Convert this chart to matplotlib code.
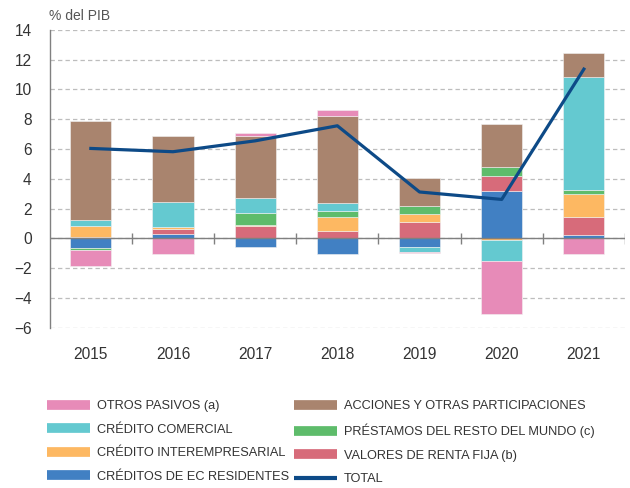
import numpy as np
import matplotlib
matplotlib.use("Agg")
import matplotlib.pyplot as plt
from matplotlib.lines import Line2D

years = ["2015", "2016", "2017", "2018", "2019", "2020", "2021"]

# % del PIB
creditos_ec = [-0.67, 0.31, -0.58, -1.05, -0.58, 3.20, 0.22]
valores_renta_fija = [0.10, 0.34, 0.83, 0.51, 1.12, 1.00, 1.20]
credito_interempresarial = [0.75, 0.10, 0.10, 0.92, 0.49, -0.09, 1.54]
prestamos_rdm = [-0.07, 0.0, 0.78, 0.43, 0.58, 0.58, 0.31]
credito_comercial = [0.40, 1.72, 0.98, 0.51, -0.31, -1.45, 7.58]
acciones = [6.60, 4.40, 4.18, 5.86, 1.86, 2.89, 1.59]
otros_pasivos = [-1.10, -1.05, 0.22, 0.38, -0.07, -3.51, -1.05]
total = [6.04, 5.82, 6.55, 7.56, 3.12, 2.62, 11.36]

names = {
    "ec": "CRÉDITOS DE EC RESIDENTES",
    "rf": "VALORES DE RENTA FIJA (b)",
    "ie": "CRÉDITO INTEREMPRESARIAL",
    "rdm": "PRÉSTAMOS DEL RESTO DEL MUNDO (c)",
    "cc": "CRÉDITO COMERCIAL",
    "acc": "ACCIONES Y OTRAS PARTICIPACIONES",
    "op": "OTROS PASIVOS (a)",
}
colors = {
    "ec": "#4180C3",
    "rf": "#D76B7A",
    "ie": "#FDB862",
    "rdm": "#5EBC6B",
    "cc": "#64C9D0",
    "acc": "#A9846E",
    "op": "#E78BB8",
}
total_color = "#0D4A87"
text_color = "#333333"

plt.rcParams["font.family"] = ["Liberation Sans", "DejaVu Sans"]

# bottom-to-top stacking order
series = [
    ("ec", creditos_ec),
    ("rf", valores_renta_fija),
    ("ie", credito_interempresarial),
    ("rdm", prestamos_rdm),
    ("cc", credito_comercial),
    ("acc", acciones),
    ("op", otros_pasivos),
]

fig = plt.figure(figsize=(6.3, 4.88), dpi=100)
ax = fig.add_axes([0.079, 0.328, 0.913, 0.611])

x = np.arange(len(years))
pos_base = np.zeros(len(years))
neg_base = np.zeros(len(years))
for key, vals in series:
    v = np.array(vals, dtype=float)
    bottom = np.where(v >= 0, pos_base, neg_base)
    ax.bar(x, v, width=0.5, bottom=bottom, color=colors[key],
           edgecolor="#f2f2f2", linewidth=0.4, zorder=3)
    pos_base += np.where(v >= 0, v, 0)
    neg_base += np.where(v < 0, v, 0)

ax.plot(x, total, color=total_color, linewidth=2.3, zorder=4)

ax.set_xlim(-0.5, len(years) - 0.5)
ax.set_ylim(-6, 14)
ax.set_yticks(np.arange(-6, 15, 2))
ax.yaxis.grid(True, linestyle=(0, (3.5, 2.5)), color="#bdbdbd", linewidth=0.9, zorder=0)
ax.axhline(0, color="#808080", linewidth=1.0, zorder=5)
ax.vlines(np.arange(len(years)) + 0.5, -0.35, 0.35, color="#808080", linewidth=1.0, zorder=5)

ax.set_xticks(x)
ax.set_xticklabels(years)
ax.tick_params(axis="x", length=0, pad=14, labelsize=11.2, labelcolor=text_color)
ax.tick_params(axis="y", length=0, pad=13, labelsize=11.2, labelcolor=text_color)
for s in ["top", "right", "bottom"]:
    ax.spines[s].set_visible(False)
ax.spines["left"].set_color("#808080")
ax.spines["left"].set_linewidth(1.0)

fig.text(0.077, 0.968, "% del PIB", fontsize=10, color="#555555", va="center", ha="left")


def legend_column(keys, x0, with_total=False):
    hs = [Line2D([], [], color=colors[k], linewidth=7, solid_capstyle="butt") for k in keys]
    ls = [names[k] for k in keys]
    if with_total:
        hs.append(Line2D([], [], color=total_color, linewidth=3, solid_capstyle="butt"))
        ls.append("TOTAL")
    leg = fig.legend(hs, ls, loc="upper left", bbox_to_anchor=(x0, 0.180),
                     frameon=False, borderpad=0, borderaxespad=0,
                     handlelength=3.4, handletextpad=0.55, labelspacing=0.9,
                     prop={"size": 9.2})
    for t in leg.get_texts():
        t.set_color(text_color)
    return leg


legend_column(["op", "cc", "ie", "ec"], 0.0746)
legend_column(["acc", "rdm", "rf"], 0.466, with_total=True)

fig.savefig("out.png", dpi=100)
